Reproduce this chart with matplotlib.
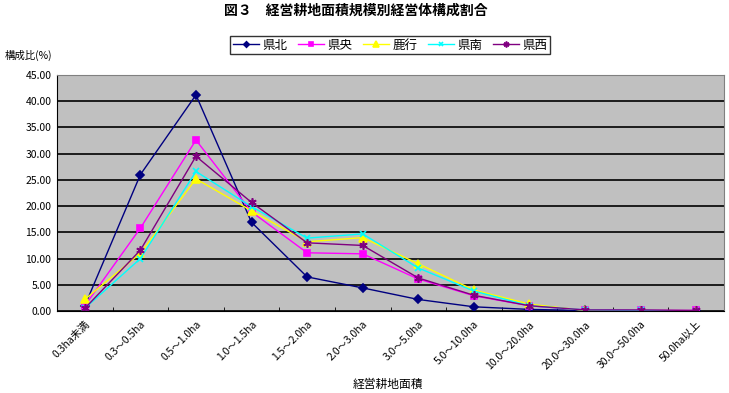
import matplotlib
matplotlib.use("Agg")
import matplotlib.pyplot as plt
import numpy as np

plt.rcParams['font.family'] = ['Noto Sans CJK JP', 'DejaVu Sans']

categories = ["0.3ha未満", "0.3～0.5ha", "0.5～1.0ha", "1.0～1.5ha", "1.5～2.0ha",
              "2.0～3.0ha", "3.0～5.0ha", "5.0～10.0ha", "10.0～20.0ha",
              "20.0～30.0ha", "30.0～50.0ha", "50.0ha以上"]
kenpoku = [1.0, 26.0, 41.2, 16.9, 6.5, 4.4, 2.2, 0.8, 0.3, 0.1, 0.05, 0.0]
kenou = [1.0, 15.8, 32.6, 18.9, 11.1, 10.9, 6.1, 2.9, 1.0, 0.2, 0.1, 0.1]
rokkou = [2.2, 11.0, 25.2, 19.1, 13.2, 14.0, 9.0, 4.0, 1.3, 0.1, 0.0, 0.0]
kennan = [0.5, 10.0, 26.6, 19.9, 13.9, 14.7, 8.2, 3.8, 1.0, 0.2, 0.1, 0.0]
kensei = [0.5, 11.6, 29.5, 20.7, 13.0, 12.5, 6.3, 3.0, 1.0, 0.2, 0.2, 0.1]

series = [
    ("県北", kenpoku, "#000080", "D", 4),
    ("県央", kenou, "#FF00FF", "s", 5),
    ("鹿行", rokkou, "#FFFF00", "^", 6),
    ("県南", kennan, "#00FFFF", "x", 5),
    ("県西", kensei, "#800080", (6, 2, 0), 6),
]

fig = plt.figure(figsize=(7.29, 3.93), dpi=100)
ax = fig.add_axes([57/729, 1 - 311/393, 667/729, 236/393])
ax.set_facecolor("#C0C0C0")

x = np.arange(len(categories))
for name, vals, col, mk, ms in series:
    ax.plot(x, vals, color=col, marker=mk, markersize=ms, linewidth=1.0,
            markeredgecolor=col, markerfacecolor=col, markeredgewidth=1.2, label=name)

ax.set_xlim(-0.5, len(categories) - 0.5)
ax.set_ylim(0, 45)
ax.set_yticks(np.arange(0, 46, 5))
ax.set_yticklabels([f"{v:.2f}" for v in np.arange(0, 46, 5)], fontsize=7.5)
ax.yaxis.grid(True, color="black", linewidth=1.2)
ax.set_axisbelow(True)
ax.tick_params(axis='y', length=0, pad=4)

ax.set_xticks(x)
ax.set_xticklabels(categories, rotation=45, ha='right', va='top',
                   rotation_mode='anchor', fontsize=7.5)
ax.set_xticks(np.arange(0.5, len(categories) - 1, 1), minor=True)
ax.tick_params(axis='x', which='major', length=0, pad=6)
ax.tick_params(axis='x', which='minor', length=3, direction='in', color='black')

for s in ['top', 'right']:
    ax.spines[s].set_color("#808080")
for s in ['left', 'bottom']:
    ax.spines[s].set_color("black")

fig.text(356/729, 1 - 11/393, "図３　経営耕地面積規模別経営体構成割合", ha='center', va='center',
         fontsize=10, fontweight='bold')
fig.text(5/729, 1 - 55/393, "構成比(%)", ha='left', va='center', fontsize=7.5)
fig.text(388/729, 1 - 384/393, "経営耕地面積", ha='center', va='center', fontsize=8.5)

leg = fig.legend(loc='center', bbox_to_anchor=(390/729, 1 - 45/393), ncol=5,
                 fontsize=9, frameon=True, fancybox=False, edgecolor='black',
                 handlelength=2.1, columnspacing=0.8, handletextpad=0.3,
                 borderpad=0.2, markerscale=0.7, borderaxespad=0)
leg.get_frame().set_linewidth(1.0)

fig.savefig("out.png", dpi=100)
